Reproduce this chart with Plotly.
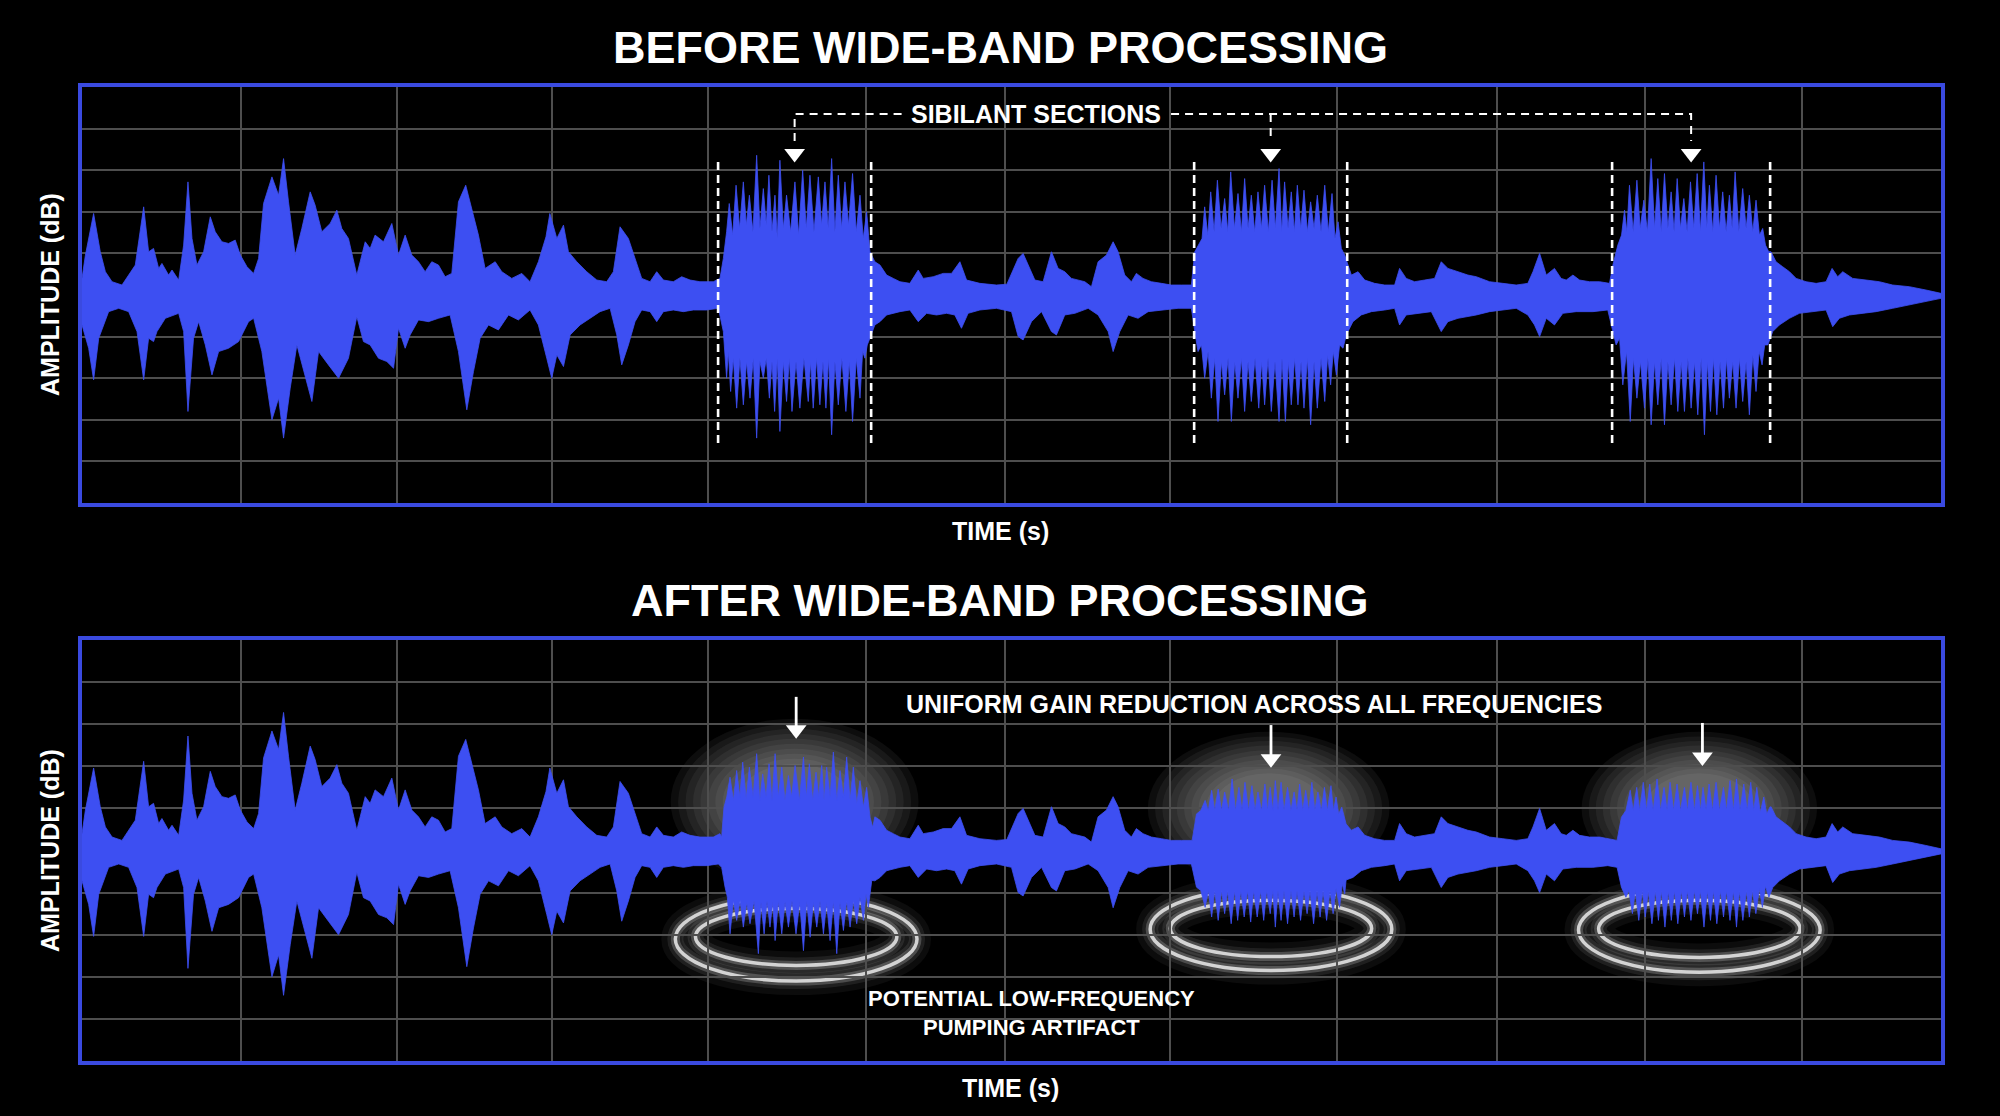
import plotly.graph_objects as go

# ------------------------------------------------------------------ DATA
# Waveform envelope: (time s, amplitude in grid units)
SPEECH_UPPER = [
    (0.000, 0.40), (0.022, 0.96), (0.075, 1.96), (0.118, 1.04), (0.151, 0.56), (0.194, 0.32), (0.258, 0.24),
    (0.301, 0.48), (0.344, 0.72), (0.398, 2.12), (0.430, 1.04), (0.462, 1.12), (0.495, 0.64), (0.516, 0.76),
    (0.559, 0.48), (0.581, 0.60), (0.624, 0.36), (0.656, 1.20), (0.684, 2.72), (0.710, 1.36), (0.742, 0.72),
    (0.785, 1.04), (0.828, 1.88), (0.860, 1.52), (0.903, 1.28), (0.946, 1.24), (0.989, 1.32), (1.022, 0.96),
    (1.065, 0.68), (1.108, 0.52), (1.140, 0.88), (1.172, 2.20), (1.226, 2.84), (1.269, 2.40), (1.301, 3.28),
    (1.333, 2.24), (1.376, 0.96), (1.419, 1.60), (1.473, 2.48), (1.505, 2.16), (1.548, 1.52), (1.602, 1.72),
    (1.645, 2.04), (1.677, 1.60), (1.720, 1.36), (1.774, 0.48), (1.828, 1.28), (1.860, 1.12), (1.892, 1.44),
    (1.946, 1.28), (2.000, 1.72), (2.043, 0.96), (2.086, 1.44), (2.129, 0.96), (2.172, 0.80), (2.215, 0.56),
    (2.258, 0.80), (2.301, 0.72), (2.344, 0.44), (2.387, 0.52), (2.430, 2.24), (2.477, 2.64), (2.516, 2.04),
    (2.559, 1.44), (2.602, 0.64), (2.667, 0.80), (2.710, 0.56), (2.774, 0.40), (2.839, 0.52), (2.892, 0.32),
    (2.946, 0.80), (2.995, 1.40),
    (3.020, 1.96), (3.065, 1.36), (3.108, 1.68), (3.140, 1.04), (3.194, 0.80), (3.258, 0.56), (3.323, 0.36),
    (3.387, 0.32), (3.430, 0.56), (3.473, 1.64), (3.527, 1.36), (3.570, 0.88), (3.613, 0.40), (3.667, 0.32),
    (3.710, 0.56), (3.753, 0.36), (3.817, 0.32), (3.871, 0.44), (3.925, 0.36), (3.989, 0.32), (4.075, 0.32),
    (4.118, 0.40),
    (5.118, 0.80), (5.151, 0.72), (5.194, 0.48), (5.237, 0.40), (5.280, 0.32), (5.344, 0.28), (5.398, 0.60),
    (5.430, 0.40), (5.495, 0.44), (5.559, 0.52), (5.613, 0.52), (5.667, 0.80), (5.710, 0.36), (5.796, 0.28),
    (5.903, 0.24), (5.970, 0.26),
    (6.043, 0.88), (6.075, 1.00), (6.108, 0.72), (6.151, 0.36), (6.204, 0.32), (6.258, 1.04), (6.301, 0.64),
    (6.344, 0.56), (6.387, 0.40), (6.430, 0.36), (6.473, 0.32), (6.516, 0.20), (6.559, 0.80), (6.613, 0.96),
    (6.656, 1.28), (6.688, 1.04), (6.731, 0.48), (6.774, 0.32), (6.806, 0.52), (6.849, 0.40), (6.903, 0.32),
    (6.968, 0.28), (7.032, 0.24), (7.097, 0.24), (7.161, 0.24),
    (8.194, 0.48), (8.237, 0.56), (8.280, 0.36), (8.344, 0.28), (8.409, 0.24), (8.473, 0.24), (8.505, 0.64),
    (8.548, 0.40), (8.602, 0.32), (8.667, 0.36), (8.731, 0.40), (8.774, 0.80), (8.817, 0.64), (8.882, 0.56),
    (8.946, 0.48), (9.000, 0.44),
    (9.086, 0.32), (9.172, 0.28), (9.258, 0.24), (9.333, 0.28), (9.366, 0.56), (9.409, 1.00), (9.452, 0.48),
    (9.505, 0.64), (9.548, 0.40), (9.581, 0.36), (9.624, 0.48), (9.667, 0.36), (9.731, 0.32), (9.796, 0.32),
    (9.860, 0.28),
    (10.903, 1.04), (10.935, 0.80), (10.978, 0.68), (11.022, 0.56), (11.065, 0.40), (11.129, 0.32),
    (11.194, 0.28), (11.258, 0.32), (11.297, 0.64), (11.333, 0.44), (11.366, 0.56), (11.430, 0.40),
    (11.516, 0.36), (11.602, 0.32), (11.688, 0.24), (11.796, 0.20), (11.903, 0.12), (12.000, 0.04),
]

SPEECH_LOWER = [
    (0.000, -0.72), (0.043, -1.28), (0.075, -2.04), (0.108, -1.04), (0.172, -0.40), (0.237, -0.32),
    (0.301, -0.40), (0.355, -0.88), (0.398, -2.04), (0.430, -1.04), (0.462, -1.12), (0.484, -0.88),
    (0.538, -0.56), (0.624, -0.44), (0.656, -0.88), (0.684, -2.80), (0.720, -1.04), (0.753, -0.64),
    (0.796, -1.20), (0.839, -1.92), (0.882, -1.36), (0.946, -1.28), (1.011, -1.12), (1.075, -0.64),
    (1.108, -0.56), (1.161, -1.36), (1.226, -3.00), (1.269, -2.48), (1.301, -3.44), (1.344, -2.24),
    (1.387, -1.20), (1.419, -1.60), (1.484, -2.56), (1.527, -1.36), (1.591, -1.68), (1.656, -2.00),
    (1.720, -1.52), (1.774, -0.52), (1.817, -1.12), (1.860, -1.20), (1.914, -1.52), (1.968, -1.60),
    (2.011, -1.76), (2.043, -0.80), (2.086, -1.28), (2.118, -0.96), (2.172, -0.60), (2.237, -0.64),
    (2.301, -0.56), (2.376, -0.48), (2.430, -1.36), (2.484, -2.76), (2.527, -1.84), (2.570, -1.04),
    (2.624, -0.72), (2.688, -0.84), (2.753, -0.48), (2.817, -0.60), (2.892, -0.36), (2.946, -0.72),
    (3.000, -1.52),
    (3.032, -2.00), (3.065, -1.44), (3.108, -1.72), (3.151, -0.96), (3.215, -0.72), (3.280, -0.56),
    (3.344, -0.40), (3.409, -0.32), (3.452, -0.96), (3.484, -1.68), (3.527, -1.20), (3.570, -0.64),
    (3.613, -0.36), (3.667, -0.40), (3.710, -0.64), (3.753, -0.40), (3.817, -0.36), (3.882, -0.40),
    (3.946, -0.36), (4.032, -0.36), (4.108, -0.32),
    (5.118, -0.72), (5.151, -0.64), (5.194, -0.48), (5.280, -0.40), (5.344, -0.36), (5.398, -0.64),
    (5.452, -0.44), (5.516, -0.48), (5.581, -0.44), (5.634, -0.48), (5.677, -0.80), (5.720, -0.44),
    (5.796, -0.36), (5.903, -0.32), (6.000, -0.40),
    (6.043, -1.00), (6.075, -1.08), (6.129, -0.64), (6.194, -0.40), (6.258, -0.88), (6.290, -0.96),
    (6.344, -0.48), (6.409, -0.44), (6.495, -0.32), (6.559, -0.48), (6.624, -0.88), (6.656, -1.36),
    (6.699, -0.88), (6.753, -0.48), (6.817, -0.56), (6.882, -0.40), (6.968, -0.36), (7.075, -0.32),
    (7.161, -0.32),
    (8.204, -0.64), (8.258, -0.48), (8.323, -0.40), (8.409, -0.36), (8.473, -0.32), (8.505, -0.72),
    (8.548, -0.48), (8.624, -0.44), (8.710, -0.40), (8.774, -0.88), (8.817, -0.64), (8.882, -0.56),
    (8.946, -0.52), (9.000, -0.48),
    (9.086, -0.40), (9.172, -0.36), (9.258, -0.32), (9.333, -0.48), (9.376, -0.72), (9.409, -1.00),
    (9.452, -0.56), (9.505, -0.72), (9.559, -0.44), (9.645, -0.40), (9.753, -0.40), (9.849, -0.36),
    (10.914, -0.88), (10.957, -0.72), (11.022, -0.56), (11.086, -0.44), (11.172, -0.40), (11.258, -0.36),
    (11.301, -0.76), (11.344, -0.56), (11.409, -0.48), (11.495, -0.44), (11.581, -0.40), (11.688, -0.32),
    (11.796, -0.24), (11.903, -0.16), (12.000, -0.08),
]

# Sibilant sections before processing
SIB_BEFORE_UPPER = [
    (4.140, 0.88), (4.161, 1.52), (4.178, 2.20), (4.200, 1.44), (4.222, 2.64), (4.245, 1.60), (4.269, 2.72),
    (4.288, 1.68), (4.308, 2.40), (4.331, 1.52), (4.355, 3.36), (4.376, 1.60), (4.398, 2.56), (4.417, 1.68),
    (4.434, 2.88), (4.454, 1.52), (4.473, 2.40), (4.488, 1.36), (4.505, 3.24), (4.527, 1.60), (4.548, 2.40),
    (4.574, 1.52), (4.602, 2.72), (4.626, 1.44), (4.652, 3.00), (4.675, 1.60), (4.699, 2.88), (4.725, 1.52),
    (4.753, 2.84), (4.774, 1.68), (4.796, 2.72), (4.817, 1.60), (4.839, 3.28), (4.860, 1.52), (4.882, 2.88),
    (4.903, 1.60), (4.925, 2.72), (4.948, 1.68), (4.974, 2.92), (4.998, 1.52), (5.022, 2.40), (5.043, 1.36),
    (5.065, 2.00), (5.086, 1.04),
    (7.183, 1.04), (7.230, 1.36), (7.247, 2.12), (7.267, 1.44), (7.286, 2.48), (7.308, 1.52), (7.329, 2.76),
    (7.353, 1.60), (7.376, 2.32), (7.396, 1.52), (7.415, 2.96), (7.439, 1.60), (7.462, 2.44), (7.484, 1.52),
    (7.505, 2.80), (7.527, 1.60), (7.548, 2.40), (7.570, 1.52), (7.591, 2.48), (7.613, 1.60), (7.634, 2.64),
    (7.658, 1.52), (7.682, 2.76), (7.703, 1.60), (7.727, 3.04), (7.744, 1.52), (7.763, 2.72), (7.785, 1.60),
    (7.806, 2.48), (7.826, 1.52), (7.845, 2.64), (7.867, 1.60), (7.888, 2.52), (7.910, 1.52), (7.931, 2.24),
    (7.953, 1.60), (7.974, 2.40), (7.998, 1.52), (8.022, 2.64), (8.045, 1.52), (8.069, 2.44), (8.088, 1.36),
    (8.108, 1.76), (8.129, 1.12), (8.151, 0.96),
    (9.882, 0.72), (9.914, 1.20), (9.938, 1.44), (9.957, 2.04), (9.972, 1.52), (9.989, 2.64), (10.013, 1.52),
    (10.037, 2.76), (10.058, 1.60), (10.082, 2.28), (10.105, 1.52), (10.129, 3.28), (10.151, 1.60),
    (10.172, 2.80), (10.194, 1.52), (10.215, 2.92), (10.237, 1.60), (10.258, 2.48), (10.277, 1.52),
    (10.297, 2.80), (10.318, 1.60), (10.340, 2.32), (10.361, 1.52), (10.383, 2.72), (10.404, 1.60),
    (10.426, 2.92), (10.447, 1.52), (10.469, 3.20), (10.488, 1.60), (10.505, 2.64), (10.527, 1.52),
    (10.548, 2.88), (10.570, 1.60), (10.591, 2.48), (10.613, 1.52), (10.634, 2.40), (10.652, 1.60),
    (10.671, 2.96), (10.695, 1.52), (10.720, 2.56), (10.742, 1.60), (10.763, 2.40), (10.785, 1.52),
    (10.806, 2.28), (10.828, 1.44), (10.849, 1.60), (10.867, 1.20), (10.888, 1.04),
]

SIB_BEFORE_LOWER = [
    (4.140, -0.88), (4.161, -2.00), (4.172, -1.36), (4.187, -2.32), (4.204, -1.52), (4.226, -2.72),
    (4.247, -1.52), (4.269, -2.64), (4.290, -1.60), (4.312, -2.48), (4.333, -1.52), (4.355, -3.44),
    (4.376, -1.60), (4.398, -2.00), (4.417, -1.52), (4.437, -2.48), (4.454, -1.60), (4.471, -2.80),
    (4.488, -1.52), (4.505, -3.28), (4.527, -1.60), (4.548, -2.56), (4.566, -1.52), (4.583, -2.80),
    (4.609, -1.60), (4.634, -2.72), (4.660, -1.52), (4.688, -2.56), (4.703, -1.60), (4.720, -2.72),
    (4.742, -1.52), (4.763, -2.64), (4.783, -1.60), (4.802, -2.72), (4.819, -1.52), (4.839, -3.36),
    (4.860, -1.60), (4.882, -2.64), (4.905, -1.52), (4.931, -2.80), (4.953, -1.60), (4.974, -3.04),
    (4.998, -1.52), (5.022, -2.48), (5.039, -1.36), (5.054, -1.52), (5.069, -1.20), (5.086, -1.04),
    (7.183, -0.88), (7.204, -1.36), (7.226, -1.20), (7.247, -2.00), (7.269, -1.36), (7.290, -2.48),
    (7.312, -1.52), (7.333, -3.04), (7.355, -1.60), (7.376, -2.40), (7.398, -1.52), (7.419, -3.04),
    (7.441, -1.60), (7.462, -2.48), (7.484, -1.52), (7.505, -2.80), (7.527, -1.60), (7.548, -2.56),
    (7.572, -1.52), (7.596, -2.72), (7.615, -1.60), (7.634, -2.64), (7.656, -1.52), (7.677, -2.80),
    (7.701, -1.60), (7.727, -3.04), (7.746, -1.52), (7.768, -3.04), (7.787, -1.60), (7.806, -2.64),
    (7.828, -1.52), (7.849, -2.64), (7.869, -1.60), (7.888, -2.72), (7.910, -1.52), (7.931, -3.12),
    (7.953, -1.60), (7.974, -2.72), (7.998, -1.52), (8.022, -2.56), (8.041, -1.44), (8.060, -2.16),
    (8.077, -1.36), (8.097, -1.92), (8.118, -1.20), (8.140, -1.28), (8.161, -0.96),
    (9.882, -0.88), (9.903, -1.20), (9.925, -1.04), (9.946, -2.16), (9.970, -1.36), (9.994, -3.04),
    (10.015, -1.52), (10.037, -2.48), (10.060, -1.60), (10.086, -2.72), (10.108, -1.52), (10.129, -3.12),
    (10.151, -1.60), (10.172, -2.64), (10.194, -1.52), (10.215, -3.12), (10.237, -1.60), (10.258, -2.64),
    (10.280, -1.52), (10.301, -2.80), (10.323, -1.60), (10.344, -2.80), (10.366, -1.52), (10.387, -2.72),
    (10.409, -1.60), (10.430, -2.88), (10.452, -1.52), (10.473, -3.36), (10.492, -1.60), (10.512, -2.80),
    (10.531, -1.52), (10.553, -2.88), (10.574, -1.60), (10.596, -2.72), (10.615, -1.52), (10.634, -2.48),
    (10.656, -1.60), (10.677, -2.72), (10.699, -1.52), (10.720, -2.56), (10.742, -1.60), (10.763, -2.88),
    (10.785, -1.44), (10.806, -2.32), (10.826, -1.36), (10.845, -1.68), (10.862, -1.20), (10.882, -1.20),
]

# Sibilant sections after wide-band processing
SIB_AFTER_UPPER = [
    (4.129, 0.32), (4.144, 1.03), (4.162, 1.27), (4.183, 1.74), (4.205, 1.19), (4.226, 1.90), (4.246, 1.27),
    (4.265, 2.10), (4.287, 1.23), (4.308, 1.98), (4.332, 1.27), (4.355, 2.30), (4.375, 1.19), (4.394, 1.82),
    (4.416, 1.27), (4.435, 2.06), (4.454, 1.19), (4.474, 2.30), (4.495, 1.27), (4.517, 1.98), (4.538, 1.19),
    (4.560, 1.78), (4.581, 1.27), (4.603, 2.02), (4.631, 1.19), (4.657, 2.22), (4.676, 1.27), (4.695, 2.06),
    (4.717, 1.19), (4.738, 1.86), (4.756, 1.27), (4.775, 2.02), (4.790, 1.19), (4.807, 1.98), (4.829, 1.27),
    (4.850, 2.34), (4.872, 1.19), (4.893, 1.90), (4.915, 1.27), (4.936, 2.22), (4.958, 1.19), (4.979, 1.98),
    (5.001, 1.11), (5.022, 1.66), (5.044, 1.03), (5.065, 1.50), (5.087, 0.79), (5.104, 0.55),
    (7.166, 0.24), (7.194, 0.87), (7.222, 0.95), (7.250, 1.19), (7.270, 0.95), (7.292, 1.43), (7.312, 0.95),
    (7.334, 1.46), (7.356, 0.95), (7.376, 1.39), (7.401, 0.95), (7.424, 1.70), (7.446, 0.95), (7.468, 1.50),
    (7.488, 0.95), (7.507, 1.62), (7.530, 0.95), (7.552, 1.54), (7.572, 0.95), (7.591, 1.39), (7.614, 0.95),
    (7.636, 1.58), (7.653, 0.95), (7.670, 1.50), (7.687, 0.95), (7.703, 1.66), (7.720, 0.95), (7.740, 1.62),
    (7.759, 0.95), (7.782, 1.50), (7.804, 0.95), (7.824, 1.39), (7.843, 0.95), (7.860, 1.58), (7.880, 0.95),
    (7.899, 1.43), (7.919, 0.95), (7.939, 1.62), (7.958, 0.95), (7.978, 1.39), (8.000, 0.95), (8.020, 1.50),
    (8.039, 0.95), (8.062, 1.54), (8.079, 0.95), (8.095, 1.27), (8.112, 0.87), (8.132, 1.03), (8.160, 0.63),
    (9.909, 0.24), (9.937, 0.79), (9.966, 0.95), (9.994, 1.43), (10.013, 0.95), (10.036, 1.50),
    (10.055, 0.95), (10.078, 1.62), (10.100, 0.95), (10.120, 1.58), (10.142, 0.95), (10.167, 1.70),
    (10.190, 0.95), (10.212, 1.50), (10.232, 0.95), (10.251, 1.62), (10.274, 0.95), (10.296, 1.58),
    (10.318, 0.95), (10.344, 1.50), (10.363, 0.95), (10.386, 1.62), (10.408, 0.95), (10.428, 1.54),
    (10.447, 0.95), (10.464, 1.50), (10.484, 0.95), (10.503, 1.58), (10.525, 0.95), (10.548, 1.62),
    (10.570, 0.95), (10.596, 1.50), (10.615, 0.95), (10.638, 1.66), (10.660, 0.95), (10.680, 1.70),
    (10.702, 0.95), (10.727, 1.58), (10.749, 0.95), (10.772, 1.62), (10.791, 0.95), (10.811, 1.50),
    (10.833, 0.90), (10.856, 1.27), (10.875, 0.87), (10.895, 1.03),
]

SIB_AFTER_LOWER = [
    (4.129, -0.40), (4.151, -0.87), (4.166, -1.11), (4.183, -1.98), (4.205, -1.19), (4.226, -1.66),
    (4.248, -1.19), (4.269, -1.82), (4.291, -1.23), (4.312, -1.74), (4.338, -1.19), (4.366, -2.45),
    (4.383, -1.23), (4.403, -1.98), (4.422, -1.19), (4.441, -1.82), (4.459, -1.23), (4.474, -2.14),
    (4.495, -1.19), (4.517, -1.98), (4.538, -1.23), (4.560, -1.82), (4.583, -1.19), (4.609, -1.98),
    (4.633, -1.23), (4.657, -2.38), (4.678, -1.19), (4.700, -2.06), (4.721, -1.23), (4.743, -1.82),
    (4.764, -1.19), (4.786, -1.98), (4.807, -1.23), (4.829, -2.14), (4.850, -1.19), (4.872, -2.45),
    (4.893, -1.23), (4.915, -1.90), (4.936, -1.19), (4.958, -1.82), (4.979, -1.19), (5.001, -1.74),
    (5.022, -1.11), (5.044, -1.66), (5.061, -1.03), (5.076, -1.35), (5.098, -0.71),
    (7.166, -0.40), (7.194, -0.87), (7.222, -0.95), (7.250, -1.35), (7.271, -0.95), (7.292, -1.58),
    (7.312, -0.95), (7.334, -1.66), (7.356, -0.95), (7.376, -1.50), (7.395, -0.95), (7.418, -1.74),
    (7.440, -0.95), (7.460, -1.66), (7.480, -0.95), (7.502, -1.58), (7.524, -0.95), (7.544, -1.70),
    (7.563, -0.95), (7.586, -1.58), (7.608, -0.95), (7.628, -1.66), (7.647, -0.95), (7.670, -1.50),
    (7.687, -0.95), (7.703, -1.82), (7.720, -0.95), (7.740, -1.66), (7.759, -0.95), (7.782, -1.74),
    (7.804, -0.95), (7.824, -1.58), (7.843, -0.95), (7.866, -1.66), (7.888, -0.95), (7.908, -1.50),
    (7.927, -0.95), (7.950, -1.74), (7.972, -0.95), (7.992, -1.58), (8.011, -0.95), (8.034, -1.66),
    (8.056, -0.95), (8.076, -1.50), (8.095, -0.90), (8.118, -1.35), (8.135, -0.80), (8.151, -1.03),
    (8.160, -0.70),
    (9.909, -0.40), (9.937, -0.87), (9.966, -1.11), (9.985, -0.95), (10.008, -1.50), (10.027, -0.95),
    (10.049, -1.66), (10.072, -0.95), (10.091, -1.58), (10.111, -0.95), (10.134, -1.74), (10.156, -0.95),
    (10.176, -1.66), (10.195, -0.95), (10.218, -1.82), (10.240, -0.95), (10.259, -1.66), (10.279, -0.95),
    (10.301, -1.74), (10.324, -0.95), (10.344, -1.58), (10.363, -0.95), (10.386, -1.66), (10.408, -0.95),
    (10.428, -1.50), (10.447, -0.95), (10.470, -1.82), (10.492, -0.95), (10.512, -1.66), (10.531, -0.95),
    (10.553, -1.74), (10.576, -0.95), (10.596, -1.58), (10.615, -0.95), (10.638, -1.66), (10.660, -0.95),
    (10.680, -1.82), (10.699, -0.95), (10.721, -1.66), (10.744, -0.95), (10.763, -1.58), (10.783, -0.95),
    (10.805, -1.50), (10.828, -0.90), (10.847, -1.35), (10.867, -0.85), (10.889, -1.11),
]

# Sibilant section boundaries (s) and time grid lines
SIB_BOUNDS = [(4.106, 5.094), (7.179, 8.167), (9.877, 10.897)]
GRID_T = [1.026, 2.033, 3.034, 4.041, 5.061, 5.958, 7.023, 8.101, 9.134, 10.089, 11.103]

# ------------------------------------------------------------------ STYLE
BLUE = '#3d4ff2'
FRAME = '#3a4ae0'
GRIDC = '#4e4e4e'
FONT = 'Liberation Sans, Arial, sans-serif'
WHITE = '#ffffff'


def merge(a, b):
    return sorted(a + b, key=lambda p: p[0])


def outline(upper, lower):
    xs = [p[0] for p in upper] + [p[0] for p in reversed(lower)]
    ys = [p[1] for p in upper] + [p[1] for p in reversed(lower)]
    return xs, ys


bx, by = outline(merge(SPEECH_UPPER, SIB_BEFORE_UPPER), merge(SPEECH_LOWER, SIB_BEFORE_LOWER))
ax_, ay_ = outline(merge(SPEECH_UPPER, SIB_AFTER_UPPER), merge(SPEECH_LOWER, SIB_AFTER_LOWER))

fig = go.Figure()

# waveforms
fig.add_trace(go.Scatter(x=bx, y=by, fill='toself', fillcolor=BLUE, mode='lines',
                         line=dict(color=BLUE, width=0.8), xaxis='x', yaxis='y', hoverinfo='skip'))
fig.add_trace(go.Scatter(x=ax_, y=ay_, fill='toself', fillcolor=BLUE, mode='lines',
                         line=dict(color=BLUE, width=0.8), xaxis='x2', yaxis='y2', hoverinfo='skip'))

# dashed section boundaries (top)
dx, dy = [], []
for t0, t1 in SIB_BOUNDS:
    for t in (t0, t1):
        dx += [t, t, None]
        dy += [3.20, -3.62, None]
fig.add_trace(go.Scatter(x=dx, y=dy, mode='lines', line=dict(color=WHITE, width=2.6, dash='8px,5px'),
                         xaxis='x', yaxis='y', hoverinfo='skip'))

# bracket for "SIBILANT SECTIONS"
mids = [(t0 + t1) / 2 for t0, t1 in SIB_BOUNDS]
BR_Y, DROP_Y = 4.35, 3.70
brx = [mids[0], mids[0], 5.32, None, 7.03, mids[2], mids[2], None, mids[1], mids[1]]
bry = [DROP_Y, BR_Y, BR_Y, None, BR_Y, BR_Y, DROP_Y, None, BR_Y, DROP_Y]
fig.add_trace(go.Scatter(x=brx, y=bry, mode='lines', line=dict(color=WHITE, width=2, dash='8px,6px'),
                         xaxis='x', yaxis='y', hoverinfo='skip'))
fig.add_trace(go.Scatter(x=mids, y=[3.40] * 3, mode='markers',
                         marker=dict(symbol='triangle-down', size=18, color=WHITE),
                         xaxis='x', yaxis='y', hoverinfo='skip'))

# gain-reduction arrows (bottom)
GA_T = [4.61, 7.675, 10.46]
GA_TAIL = [3.65, 2.98, 3.03]
GA_HEAD = [2.87, 2.18, 2.22]
sx, sy = [], []
for t, a0, a1 in zip(GA_T, GA_TAIL, GA_HEAD):
    sx += [t, t, None]
    sy += [a0, a1, None]
fig.add_trace(go.Scatter(x=sx, y=sy, mode='lines', line=dict(color=WHITE, width=2.8),
                         xaxis='x2', yaxis='y2', hoverinfo='skip'))
fig.add_trace(go.Scatter(x=GA_T, y=GA_HEAD, mode='markers',
                         marker=dict(symbol='triangle-down', size=18, color=WHITE),
                         xaxis='x2', yaxis='y2', hoverinfo='skip'))

# glows and pumping rings (decoration, bottom panel)
shapes = []
GLOWS = [(4.60, 1.15, 0.80, 1.98), (7.66, 1.00, 0.78, 1.82), (10.44, 1.00, 0.76, 1.82)]
for tc, ac, rx, ry in GLOWS:
    for k in range(10):
        s = 1.0 - k * 0.06
        shapes.append(dict(type='circle', xref='x2', yref='y2', layer='below',
                           x0=tc - rx * s, x1=tc + rx * s, y0=ac - ry * s, y1=ac + ry * s,
                           fillcolor='rgba(255,255,255,0.05)', line=dict(width=0)))
RINGS = [(4.61, -2.10, 0.78, 1.00, -2.05, 0.65, 0.68),
         (7.675, -1.87, 0.78, 0.98, -1.85, 0.65, 0.67),
         (10.44, -1.89, 0.78, 1.00, -1.86, 0.65, 0.68)]
for tc, ao, rxo, ryo, ai, rxi, ryi in RINGS:
    for (a, rx, ry) in ((ao, rxo, ryo), (ai, rxi, ryi)):
        for w, op in ((28, 0.05), (16, 0.09), (9, 0.22), (3.5, 0.85)):
            shapes.append(dict(type='circle', xref='x2', yref='y2', layer='below',
                               x0=tc - rx, x1=tc + rx, y0=a - ry, y1=a + ry,
                               line=dict(color=f'rgba(235,235,235,{op})', width=w)))

axis_common = dict(showticklabels=False, ticks='', showgrid=True, gridcolor=GRIDC, gridwidth=1.6,
                   zeroline=False, showline=True, linecolor=FRAME, linewidth=4, mirror=True)
XDOM = [0.041, 0.9705]


def label(text, x, y, size, **kw):
    return dict(text=text, x=x, y=y, xref='paper', yref='paper', showarrow=False,
                font=dict(family=FONT, size=size, color=WHITE), xanchor='center', yanchor='middle', **kw)


annotations = [
    label('<b>BEFORE WIDE-BAND PROCESSING</b>', 0.5, 0.957, 45),
    label('<b>AFTER WIDE-BAND PROCESSING</b>', 0.5, 0.4615, 45),
    label('<b>TIME (s)</b>', 0.5, 0.5242, 25),
    label('<b>TIME (s)</b>', 0.5055, 0.0251, 25),
    label('<b>AMPLITUDE (dB)</b>', 0.025, 0.7357, 25, textangle=-90),
    label('<b>AMPLITUDE (dB)</b>', 0.025, 0.2375, 25, textangle=-90),
    dict(text='<b>SIBILANT SECTIONS</b>', x=6.158, y=BR_Y, xref='x', yref='y', showarrow=False,
         font=dict(family=FONT, size=25, color=WHITE), xanchor='center', yanchor='middle'),
    dict(text='<b>UNIFORM GAIN REDUCTION ACROSS ALL FREQUENCIES</b>', x=7.565, y=3.48, xref='x2', yref='y2',
         showarrow=False, font=dict(family=FONT, size=25, color=WHITE), xanchor='center', yanchor='middle'),
    dict(text='<b>POTENTIAL LOW-FREQUENCY<br>PUMPING ARTIFACT</b>', x=6.126, y=-3.85, xref='x2', yref='y2',
         showarrow=False, font=dict(family=FONT, size=22, color=WHITE), xanchor='center', yanchor='middle',
         align='center'),
]

fig.update_layout(
    width=2000, height=1116, margin=dict(l=0, r=0, t=0, b=0),
    paper_bgcolor='black', plot_bgcolor='black', showlegend=False,
    xaxis=dict(domain=XDOM, range=[0, 12], tickvals=GRID_T, anchor='y', **axis_common),
    yaxis=dict(domain=[0.5493, 0.9220], range=[-5, 5], tick0=0, dtick=1, anchor='x', **axis_common),
    xaxis2=dict(domain=XDOM, range=[0, 12], tickvals=GRID_T, anchor='y2', **axis_common),
    yaxis2=dict(domain=[0.0493, 0.4265], range=[-5, 5], tick0=0, dtick=1, anchor='x2', **axis_common),
    shapes=shapes, annotations=annotations,
)

fig.write_html('out.html', config={'displayModeBar': False},
               post_script="document.body.style.margin='0';document.body.style.background='black';")
